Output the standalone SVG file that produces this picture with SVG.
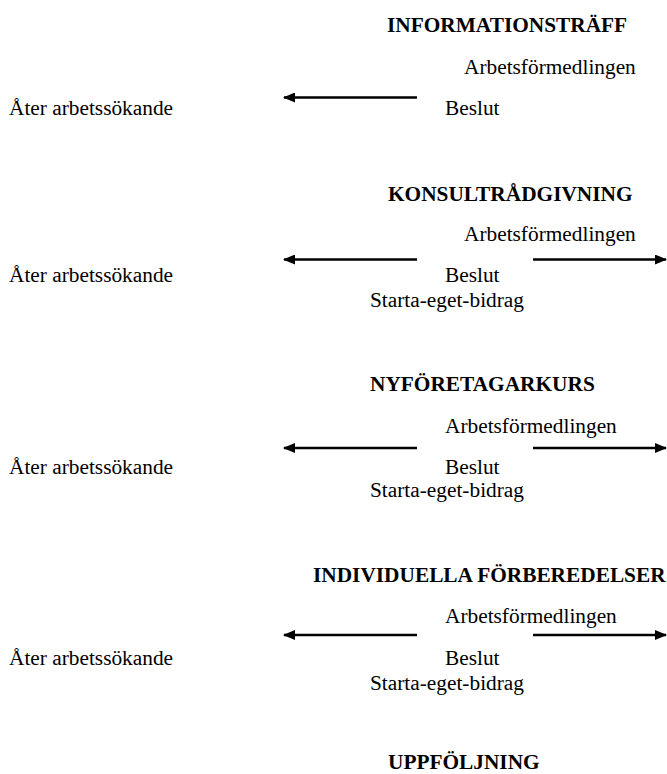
<svg xmlns="http://www.w3.org/2000/svg" width="667" height="774" viewBox="0 0 667 774" font-family="'Liberation Serif', 'Times New Roman', serif">
<style>
text{font-family:'Liberation Serif','Times New Roman',serif;font-size:21.33px;font-weight:normal;fill:#000}
text.t{font-weight:bold}
.c line{stroke:#000;stroke-width:2.6}
</style>
<defs>
<marker id="ah" viewBox="0 0 12 10" refX="11" refY="5" markerWidth="12" markerHeight="10" markerUnits="userSpaceOnUse" orient="auto">
<path d="M0,0 L12,5 L0,10 Z" fill="#000"/>
</marker>
</defs>
<rect width="667" height="774" fill="#fff"/>
<g id="n1">
<text class="t" x="387" y="32">INFORMATIONSTRÄFF</text>
<text x="464" y="74">Arbetsförmedlingen</text>
<text x="445" y="115">Beslut</text>
<text x="9" y="115">Åter arbetssökande</text>
</g>
<g id="n2">
<text class="t" x="388" y="201">KONSULTRÅDGIVNING</text>
<text x="464" y="241">Arbetsförmedlingen</text>
<text x="445" y="282">Beslut</text>
<text x="370" y="307">Starta-eget-bidrag</text>
<text x="9" y="282">Åter arbetssökande</text>
</g>
<g id="n3">
<text class="t" x="370" y="391">NYFÖRETAGARKURS</text>
<text x="445" y="433">Arbetsförmedlingen</text>
<text x="445" y="474">Beslut</text>
<text x="370" y="497">Starta-eget-bidrag</text>
<text x="9" y="474">Åter arbetssökande</text>
</g>
<g id="n4">
<text class="t" x="313" y="582">INDIVIDUELLA FÖRBEREDELSER</text>
<text x="445" y="623">Arbetsförmedlingen</text>
<text x="445" y="665">Beslut</text>
<text x="370" y="690">Starta-eget-bidrag</text>
<text x="9" y="665">Åter arbetssökande</text>
</g>
<g id="n5">
<text class="t" x="388" y="769">UPPFÖLJNING</text>
</g>
<g id="connectors" class="c">
<line x1="417" y1="97.5" x2="284" y2="97.5" marker-end="url(#ah)"/>
<line x1="417" y1="259.5" x2="284" y2="259.5" marker-end="url(#ah)"/>
<line x1="533" y1="259.5" x2="666" y2="259.5" marker-end="url(#ah)"/>
<line x1="417" y1="448" x2="284" y2="448" marker-end="url(#ah)"/>
<line x1="533" y1="448" x2="666" y2="448" marker-end="url(#ah)"/>
<line x1="417" y1="635" x2="284" y2="635" marker-end="url(#ah)"/>
<line x1="533" y1="635" x2="666" y2="635" marker-end="url(#ah)"/>
</g>
</svg>
